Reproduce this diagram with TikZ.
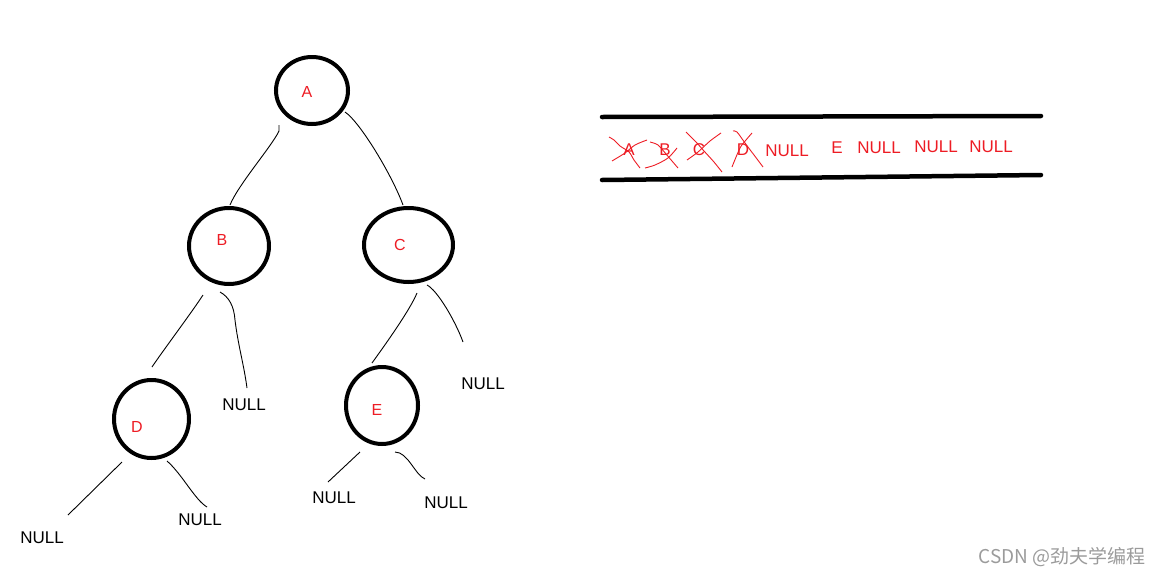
\documentclass[tikz,border=0pt]{standalone}
\usepackage{fontspec}
\setmainfont{Liberation Sans}
\newfontfamily\cjkwm{Noto Sans CJK SC}
\usetikzlibrary{shapes.geometric,calc}
\definecolor{pred}{RGB}{237,28,36}
\definecolor{wmgray}{RGB}{155,155,155}
\begin{document}
\begin{tikzpicture}[x=1pt,y=-1pt,
  tn/.style={draw=black,line width=4pt,ellipse,inner sep=0pt},
  lab/.style={text=pred,font=\fontsize{16}{16}\selectfont,inner sep=0pt},
  nul/.style={font=\fontsize{17}{17}\selectfont,inner sep=0pt},
  qt/.style={text=pred,font=\fontsize{17}{17}\selectfont,inner sep=0pt},
  edge/.style={line width=0.9pt},
  xmark/.style={draw=pred,line width=0.9pt},
  qline/.style={line width=4.5pt,line cap=round}]
\useasboundingbox (0,0) rectangle (1163,576);

% tree nodes
\node[tn,minimum width=72pt,minimum height=67pt] (A) at (312,90.5) {};
\node[tn,minimum width=80pt,minimum height=76pt] (B) at (229,246) {};
\node[tn,minimum width=89pt,minimum height=74pt] (C) at (408.5,245) {};
\node[tn,minimum width=75pt,minimum height=78pt] (D) at (151.5,419) {};
\node[tn,minimum width=72pt,minimum height=77pt] (E) at (382,405.5) {};

\node[lab] (Al) at (307,92) {A};
\node[lab] (Bl) at (222,240) {B};
\node[lab] (Cl) at (400,245) {C};
\node[lab] (Dl) at (137,427) {D};
\node[lab] (El) at (377,410) {E};

% NULL leaves
\node[nul] (nb) at (244,405) {NULL};
\node[nul] (nc) at (483,384) {NULL};
\node[nul] (ndl) at (42,538) {NULL};
\node[nul] (ndr) at (200,520) {NULL};
\node[nul] (nel) at (334,498) {NULL};
\node[nul] (ner) at (446,503) {NULL};

% edges
\draw[edge] ($(A)+(-33,34.5)$) -- ++(0,6) .. controls (272,146) and (238,185) .. ($(B)+(1,-41)$);
\draw[edge] ($(A)+(33,21.5)$) .. controls (360,122) and (392,175) .. ($(C)+(-5.5,-40)$);
\draw[edge] ($(B)+(-26,49)$) .. controls (192,312) and (162,352) .. ($(D)+(0.5,-52)$);
\draw[edge] ($(B)+(-9,46)$) .. controls (229,297) and (234,306) .. (235,320)
            .. controls (238,345) and (244,365) .. ($(nb)+(3,-17)$);
\draw[edge] ($(C)+(8.5,48)$) .. controls (410,310) and (385,345) .. ($(E)+(-10,-42.5)$);
\draw[edge] ($(C)+(18.5,40)$) .. controls (437,290) and (455,320) .. ($(nc)+(-20,-42)$);
\draw[edge] ($(D)+(-29.5,43)$) -- ($(ndl)+(26,-23)$);
\draw[edge] ($(D)+(15.5,42)$) .. controls (182,474) and (195,500) .. ($(ndr)+(7,-13)$);
\draw[edge] ($(E)+(-22,46.5)$) -- ($(nel)+(-6,-16)$);
\draw[edge] ($(E)+(13,46.5)$) .. controls (408,452) and (415,475) .. ($(ner)+(-21,-24)$);

% queue
\draw[qline] (602,117) -- (1041,116);
\draw[qline] (602,180) -- (1041,175);

\node[qt] (q1) at (629,150) {A};
\node[qt] (q2) at (665,150) {B};
\node[qt] (q3) at (699,150) {C};
\node[qt] (q4) at (743,150) {D};
\node[qt] (q5) at (787,151) {NULL};
\node[qt] (q6) at (837,148) {E};
\node[qt] (q7) at (879,148) {NULL};
\node[qt] (q8) at (936,147) {NULL};
\node[qt] (q9) at (991,147) {NULL};

% crosses
\draw[xmark] plot[smooth] coordinates {(609,137) (614,140) (620,146) (629,152) (634,160) (640,168)};
\draw[xmark] plot[smooth] coordinates {(612,161) (625,153) (635,145) (647,140)};
\draw[xmark] plot[smooth] coordinates {(650,142) (658,145) (666,154) (672,161) (678,168)};
\draw[xmark] plot[smooth] coordinates {(645,168) (655,165) (668,158) (677,148)};
\draw[xmark] plot[smooth] coordinates {(686,132) (696,142) (704,151) (714,162) (722,172)};
\draw[xmark] plot[smooth] coordinates {(687,160) (698,152) (710,141) (721,133)};
\draw[xmark] plot[smooth] coordinates {(733,131) (737,132) (745,143) (754,155) (763,167)};
\draw[xmark] plot[smooth] coordinates {(732,167) (740,148) (746,140) (752,133)};

% watermark
\node[text=wmgray,font=\cjkwm\fontsize{19}{19}\selectfont,inner sep=0pt] (wm) at (1062,557) {CSDN @劲夫学编程};
\end{tikzpicture}
\end{document}
